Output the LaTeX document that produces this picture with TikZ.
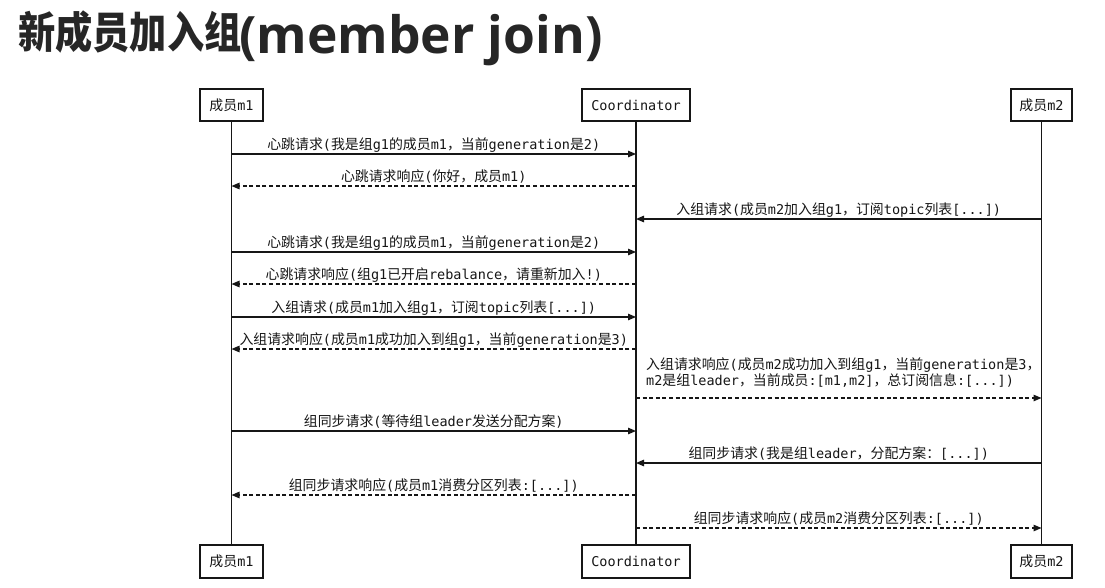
\documentclass[tikz,border=0pt]{standalone}
\usepackage{fontspec}
\usetikzlibrary{arrows.meta}
\setmonofont{DejaVu Sans Mono}
\newfontfamily\cjkfam[Scale=1.03]{Noto Sans CJK SC}
\newfontfamily\titlelat{Open Sans}
\XeTeXinterchartokenstate=1
\newXeTeXintercharclass\CJKcls
\newcount\cjkc
\cjkc="4E00 \loop \XeTeXcharclass\cjkc=\CJKcls \advance\cjkc 1 \ifnum\cjkc<"A000 \repeat
\cjkc="3000 \loop \XeTeXcharclass\cjkc=\CJKcls \advance\cjkc 1 \ifnum\cjkc<"3040 \repeat
\cjkc="FF00 \loop \XeTeXcharclass\cjkc=\CJKcls \advance\cjkc 1 \ifnum\cjkc<"FFF0 \repeat
\XeTeXinterchartoks 0 \CJKcls={\cjkfam}
\XeTeXinterchartoks 4095 \CJKcls={\cjkfam}
\XeTeXinterchartoks \CJKcls 0={\ttfamily}
\definecolor{ink}{HTML}{161616}
\definecolor{titleink}{HTML}{262626}
\tikzset{
  actor/.style={draw=ink, line width=1.5pt, fill=white, minimum height=32pt, inner sep=0pt,
    font=\ttfamily\fontsize{13.5pt}{17pt}\selectfont, text=ink},
  life/.style={draw=ink, line width=1.3pt},
  req/.style={draw=ink, line width=1.2pt, -{Triangle[length=8pt,width=6.5pt]}},
  resp/.style={req, dash pattern=on 4pt off 2.6pt},
  lbl/.style={anchor=base, yshift=5pt, inner sep=0pt, text=ink,
    font=\ttfamily\fontsize{13.5pt}{17pt}\selectfont},
}
\begin{document}
\begin{tikzpicture}[x=1pt,y=-1pt]
\path[use as bounding box, fill=white] (0,0) rectangle (1105,587);

% title
\node[anchor=base west, inner sep=0pt, text=titleink] (tcjk) at (18,48)
  {\XeTeXinterchartokenstate=0 \scalebox{0.86}[1]{\cjkfam\bfseries\fontsize{42pt}{42pt}\selectfont 新成员加入组}};
\node[anchor=base west, inner sep=0pt, text=titleink] (tlat) at (239,53)
  {\XeTeXinterchartokenstate=0 \titlelat\bfseries\fontsize{51.5pt}{52pt}\selectfont(member join)};

% actors
\node[actor, minimum width=63pt] (m1t) at (231.5,105) {成员m1};
\node[actor, minimum width=108pt] (ct) at (636,105) {Coordinator};
\node[actor, minimum width=61pt] (m2t) at (1041.5,105) {成员m2};
\node[actor, minimum width=63pt, minimum height=33pt] (m1b) at (231.5,561.5) {成员m1};
\node[actor, minimum width=108pt, minimum height=33pt] (cb) at (636,561.5) {Coordinator};
\node[actor, minimum width=61pt, minimum height=33pt] (m2b) at (1041.5,561.5) {成员m2};

% lifelines
\draw[life] (m1t) -- (m1b);
\draw[life] (ct) -- (cb);
\draw[life] (m2t) -- (m2b);

% message anchor points
\foreach \n/\y in {1/154,2/186,3/219,4/252,5/284,6/317,7/349,8/398,9/431,10/463,11/495,12/528}{
  \path (m1t.south |- 0,\y) coordinate (a\n)
        (ct.south |- 0,\y) coordinate (b\n)
        (m2t.south |- 0,\y) coordinate (c\n);
}

\draw[req]  (a1) -- node[lbl]{心跳请求(我是组g1的成员m1，当前generation是2)} (b1);
\draw[resp] (b2) -- node[lbl]{心跳请求响应(你好，成员m1)} (a2);
\draw[req]  (c3) -- node[lbl]{入组请求(成员m2加入组g1，订阅topic列表[...])} (b3);
\draw[req]  (a4) -- node[lbl]{心跳请求(我是组g1的成员m1，当前generation是2)} (b4);
\draw[resp] (b5) -- node[lbl]{心跳请求响应(组g1已开启rebalance，请重新加入!)} (a5);
\draw[req]  (a6) -- node[lbl]{入组请求(成员m1加入组g1，订阅topic列表[...])} (b6);
\draw[resp] (b7) -- node[lbl]{入组请求响应(成员m1成功加入到组g1，当前generation是3)} (a7);
\draw[resp] (b8) -- (c8);
\node[inner sep=0pt, anchor=north west, align=left, text=ink,
      font=\ttfamily\fontsize{13.5pt}{17pt}\selectfont] (l8) at (646,357)
  {入组请求响应(成员m2成功加入到组g1，当前generation是3，\\m2是组leader，当前成员:[m1,m2]，总订阅信息:[...])};
\draw[req]  (a9) -- node[lbl]{组同步请求(等待组leader发送分配方案)} (b9);
\draw[req]  (c10) -- node[lbl]{组同步请求(我是组leader，分配方案：[...])} (b10);
\draw[resp] (b11) -- node[lbl]{组同步请求响应(成员m1消费分区列表:[...])} (a11);
\draw[resp] (b12) -- node[lbl]{组同步请求响应(成员m2消费分区列表:[...])} (c12);
\end{tikzpicture}
\end{document}
